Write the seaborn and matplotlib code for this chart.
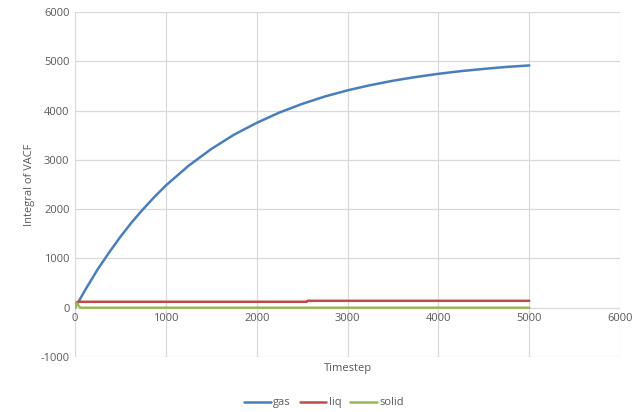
import numpy as np
import pandas as pd
import matplotlib
matplotlib.use('Agg')
import matplotlib.pyplot as plt
from matplotlib.lines import Line2D
import seaborn as sns

# values
gas_t = [0, 125, 250, 375, 500, 625, 750, 875, 1000, 1250, 1500, 1750, 2000,
         2250, 2500, 2750, 3000, 3250, 3500, 3750, 4000, 4250, 4500, 4750, 5000]
gas_v = [0, 400, 780, 1120, 1440, 1735, 2000, 2250, 2480, 2880, 3220, 3510, 3750,
         3960, 4135, 4285, 4410, 4515, 4605, 4680, 4745, 4800, 4845, 4885, 4915]

liq_t = [0, 20, 40, 2550, 2560, 5000]
liq_v = [0, 110, 120, 120, 140, 140]

solid_t = [0, 20, 40, 60, 5000]
solid_v = [0, 90, 40, 0, 0]

frames = []
for name, t, v in [('gas', gas_t, gas_v), ('liq', liq_t, liq_v), ('solid', solid_t, solid_v)]:
    frames.append(pd.DataFrame({'Timestep': t, 'value': v, 'series': name}))
df = pd.concat(frames, ignore_index=True)

sns.set_style('white')
plt.rcParams['font.family'] = ['Open Sans', 'DejaVu Sans']
plt.rcParams['axes.unicode_minus'] = False

fig = plt.figure(figsize=(6.44, 4.12), dpi=100)
ax = fig.add_axes([0.1165, 0.1335, 0.8465, 0.8375])

palette = {'gas': '#4a7ebb', 'liq': '#be4b48', 'solid': '#98b954'}
sns.lineplot(data=df, x='Timestep', y='value', hue='series', palette=palette,
             linewidth=1.8, ax=ax, estimator=None, sort=False, legend=False)

ax.set_xlim(0, 6000)
ax.set_ylim(-1000, 6000)
ax.set_xticks(range(0, 6001, 1000))
ax.set_yticks(range(-1000, 6001, 1000))
ax.grid(True, color='#d9d9d9', linewidth=0.9)
ax.set_axisbelow(True)
# x axis crosses at y = 0, like the original
ax.spines['bottom'].set_position(('data', 0))
for s in ax.spines.values():
    s.set_visible(False)
ax.tick_params(length=0, labelsize=8, colors='#595959', pad=4)

ax.set_xlabel('Timestep', fontsize=8, color='#595959')
ax.xaxis.set_label_coords(0.5, -0.016)
ax.set_ylabel('Integral of VACF', fontsize=8, color='#595959', labelpad=4)

handles = [Line2D([], [], color=palette[k], linewidth=1.8) for k in ['gas', 'liq', 'solid']]
fig.legend(handles, ['gas', 'liq', 'solid'], loc='center', bbox_to_anchor=(0.503, 0.022),
           ncol=3, frameon=False, fontsize=8, labelcolor='#595959',
           handlelength=2.4, columnspacing=0.8, handletextpad=0.2)

fig.savefig('out.png', dpi=100)
